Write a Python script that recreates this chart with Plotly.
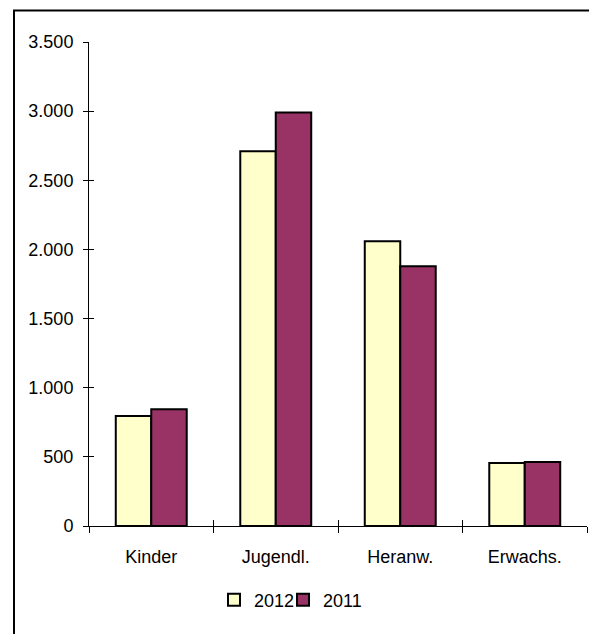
import plotly.graph_objects as go

categories = ["Kinder", "Jugendl.", "Heranw.", "Erwachs."]
series_names = ["2012", "2011"]
values_2012 = [795, 2710, 2060, 455]
values_2011 = [845, 2990, 1878, 463]
y_tickvals = [0, 500, 1000, 1500, 2000, 2500, 3000, 3500]
y_ticktext = ["0", "500", "1.000", "1.500", "2.000", "2.500", "3.000", "3.500"]

W, H = 589, 634
L, R, T = 89, 2, 42
B = H - 526
pw, ph = W - L - R, H - T - B

def px_x(x):
    return (x - L) / pw

def px_y(y):
    return (H - B - y) / ph

font = dict(family="Liberation Sans, Arial, sans-serif", size=18, color="black")

fig = go.Figure()
fig.add_trace(go.Bar(x=categories, y=values_2012, name=series_names[0], legend="legend",
                     marker=dict(color="#FFFFCC", line=dict(color="black", width=2))))
fig.add_trace(go.Bar(x=categories, y=values_2011, name=series_names[1], legend="legend2",
                     marker=dict(color="#993366", line=dict(color="black", width=2))))
# helper trace for inner tick marks
fig.add_trace(go.Scatter(x=[None], y=[None], xaxis="x2", yaxis="y2",
                         showlegend=False, hoverinfo="skip"))

legend_common = dict(orientation="h", xanchor="left", y=px_y(600), yanchor="middle",
                     font=font, bgcolor="rgba(0,0,0,0)", itemclick=False)

fig.update_layout(
    width=W, height=H,
    margin=dict(l=L, r=R, t=T, b=B),
    paper_bgcolor="white", plot_bgcolor="white",
    font=font,
    barmode="group", bargap=0.43, bargroupgap=0,
    xaxis=dict(type="category", categoryarray=categories, tickson="boundaries",
               ticks="outside", ticklen=6, tickcolor="black", tickwidth=1,
               showline=True, linecolor="black", linewidth=1,
               showgrid=False, zeroline=False, ticklabelstandoff=14,
               range=[-0.5, 3.5]),
    yaxis=dict(range=[0, 3500], tickvals=y_tickvals, ticktext=y_ticktext,
               ticks="outside", ticklen=5, tickcolor="black", tickwidth=1,
               showline=True, linecolor="black", linewidth=1,
               showgrid=False, zeroline=False, ticklabelstandoff=6),
    xaxis2=dict(overlaying="x", anchor="y", range=[-0.5, 3.5],
                tickvals=[-0.5, 0.5, 1.5, 2.5, 3.5], ticks="inside", ticklen=6,
                tickcolor="black", showticklabels=False, showline=False,
                showgrid=False, zeroline=False),
    yaxis2=dict(overlaying="y", anchor="x", range=[0, 3500], tickvals=y_tickvals,
                ticks="inside", ticklen=5, tickcolor="black",
                showticklabels=False, showline=False, showgrid=False, zeroline=False),
    legend=dict(x=px_x(214), **legend_common),
    legend2=dict(x=px_x(283), **legend_common),
    shapes=[dict(type="rect", xref="paper", yref="paper",
                 x0=px_x(14), x1=px_x(660), y0=px_y(720), y1=px_y(10.5),
                 line=dict(color="black", width=2), layer="above")],
)

fig.write_html("out.html",
               config={"displayModeBar": False},
               post_script="document.body.style.margin='0px';"
                           "document.body.style.overflow='hidden';")
